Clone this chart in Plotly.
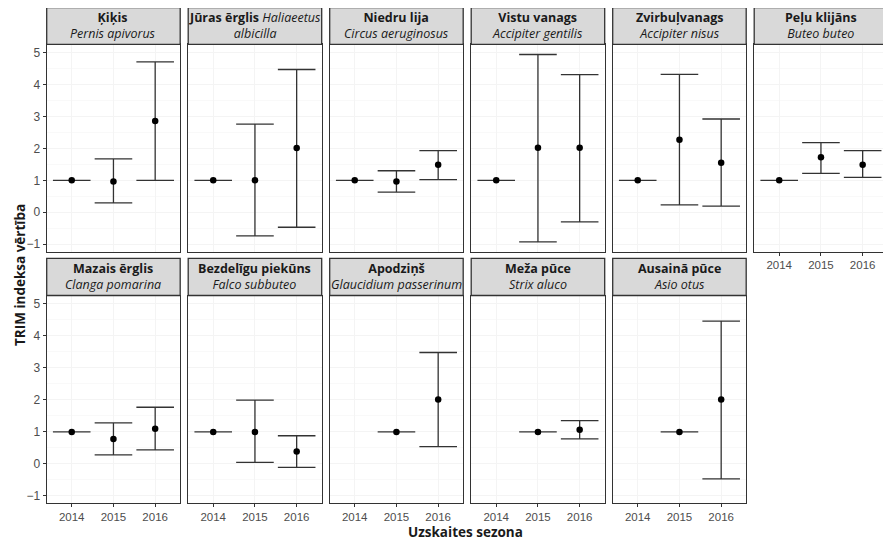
import plotly.graph_objects as go

# ---------------- data ----------------
species_lv = ["Ķiķis", "Jūras ērglis", "Niedru lija", "Vistu vanags", "Zvirbuļvanags",
              "Peļu klijāns", "Mazais ērglis", "Bezdelīgu piekūns", "Apodziņš",
              "Meža pūce", "Ausainā pūce"]
species_lat = ["Pernis apivorus", "Haliaeetus albicilla", "Circus aeruginosus",
               "Accipiter gentilis", "Accipiter nisus", "Buteo buteo", "Clanga pomarina",
               "Falco subbuteo", "Glaucidium passerinum", "Strix aluco", "Asio otus"]
years = [2014, 2015, 2016]

index_val = [
    [1, 0.96, 2.86],
    [1, 1.00, 2.01],
    [1, 0.96, 1.49],
    [1, 2.02, 2.02],
    [1, 2.27, 1.55],
    [1, 1.72, 1.49],
    [1, 0.78, 1.10],
    [1, 1.00, 0.39],
    [None, 1, 2.01],
    [None, 1, 1.07],
    [None, 1, 2.01],
]
lower_ci = [
    [1, 0.29, 1.00],
    [1, -0.74, -0.47],
    [1, 0.63, 1.02],
    [1, -0.93, -0.30],
    [1, 0.23, 0.19],
    [1, 1.22, 1.09],
    [1, 0.28, 0.44],
    [1, 0.05, -0.11],
    [None, 1, 0.54],
    [None, 1, 0.78],
    [None, 1, -0.47],
]
upper_ci = [
    [1, 1.67, 4.71],
    [1, 2.76, 4.47],
    [1, 1.30, 1.93],
    [1, 4.94, 4.31],
    [1, 4.32, 2.92],
    [1, 2.18, 1.93],
    [1, 1.28, 1.77],
    [1, 1.99, 0.88],
    [None, 1, 3.48],
    [None, 1, 1.35],
    [None, 1, 4.46],
]
y_ticks = [-1, 0, 1, 2, 3, 4, 5]
y_title = "TRIM indeksa vērtība"
x_title = "Uzskaites sezona"

# ---------------- layout geometry (window pixels) ----------------
WIN_W, WIN_H = 891, 541
OFF = 8  # page body margin of the browser
W, H = WIN_W - OFF, WIN_H - OFF
ncol = 6
left0, step, pw = 46.7, 141.5, 133.5
rows = [  # strip top, strip bottom(panel top), panel bottom
    (7.5, 44.3, 251.5),
    (258.3, 295.5, 503.3),
]
latin_words_on_first_line = {1: 1}

def px(x):
    return (x - OFF) / W

def py(y):
    return 1 - (y - OFF) / H

STRIP_FONT = "Open Sans"
TICK_FONT = "Liberation Sans"
BORDER = "#333333"

fig = go.Figure()
shapes = []
annotations = []

for i, name in enumerate(species_lv):
    r, c = divmod(i, ncol)
    st, pt, pb = rows[r]
    L = left0 + c * step
    R = L + pw
    sfx = "" if i == 0 else str(i + 1)

    xs, ys, up, dn = [], [], [], []
    for j, yr in enumerate(years):
        v = index_val[i][j]
        if v is None:
            continue
        xs.append(yr)
        ys.append(v)
        up.append(upper_ci[i][j] - v)
        dn.append(v - lower_ci[i][j])

    fig.add_trace(go.Scatter(
        x=xs, y=ys, mode="markers",
        marker=dict(color="black", size=6.5),
        error_y=dict(type="data", symmetric=False, array=up, arrayminus=dn,
                     color=BORDER, thickness=1.3, width=18.8),
        xaxis="x" + sfx, yaxis="y" + sfx, showlegend=False,
        hoverinfo="x+y",
    ))

    show_x = (r == 1) or (i == ncol - 1)
    show_y = (c == 0)
    fig.layout["xaxis" + sfx] = dict(
        domain=[px(L), px(R)], anchor="y" + sfx, automargin=False,
        range=[2013.4, 2016.6], tickvals=years, ticktext=[str(y) for y in years],
        showticklabels=show_x, ticks="outside" if show_x else "",
        ticklen=3, tickwidth=1, tickcolor=BORDER,
        tickfont=dict(family=TICK_FONT, size=11.5, color="#4d4d4d"),
        showline=True, mirror=True, linecolor=BORDER, linewidth=1.3,
        showgrid=True, gridcolor="#f4f4f4", gridwidth=1, zeroline=False,
        fixedrange=True,
    )
    fig.layout["yaxis" + sfx] = dict(
        domain=[py(pb), py(pt)], anchor="x" + sfx, automargin=False,
        range=[-1.23, 5.26], tickvals=y_ticks,
        showticklabels=show_y, ticks="outside" if show_y else "",
        ticklen=3, tickwidth=1, tickcolor=BORDER,
        tickfont=dict(family=TICK_FONT, size=12, color="#4d4d4d"),
        showline=True, mirror=True, linecolor=BORDER, linewidth=1.3,
        showgrid=True, gridcolor="#f4f4f4", gridwidth=1, zeroline=False,
        minor=dict(showgrid=True, gridcolor="#f9f9f9", gridwidth=0.6, dtick=0.5, tick0=0.5),
        fixedrange=True,
    )

    # strip
    shapes.append(dict(type="rect", xref="paper", yref="paper",
                       x0=px(L), x1=px(R), y0=py(pt), y1=py(st),
                       fillcolor="#d9d9d9", line=dict(color=BORDER, width=1.3),
                       layer="above"))
    lat_words = species_lat[i].split()
    k = latin_words_on_first_line.get(i, 0)
    line1 = "<b>" + name + "</b>"
    if k:
        line1 += " <i>" + " ".join(lat_words[:k]) + "</i>"
    line2 = "<i>" + " ".join(lat_words[k:]) + "</i>"
    annotations.append(dict(
        x=px((L + R) / 2), y=py((st + pt) / 2), xref="paper", yref="paper",
        text=line1 + "<br>" + line2, showarrow=False,
        font=dict(family=STRIP_FONT, size=12.5, color="#1a1a1a"),
        xanchor="center", yanchor="middle", align="center",
    ))

annotations.append(dict(
    x=px(20), y=py(275), xref="paper", yref="paper", text="<b>" + y_title + "</b>",
    textangle=-90, showarrow=False, font=dict(family=STRIP_FONT, size=13.5, color="#1a1a1a"),
    xanchor="center", yanchor="middle",
))
annotations.append(dict(
    x=px(466), y=py(532.3), xref="paper", yref="paper", text="<b>" + x_title + "</b>",
    showarrow=False, font=dict(family=STRIP_FONT, size=13.5, color="#1a1a1a"),
    xanchor="center", yanchor="middle",
))

fig.update_layout(
    width=W, height=H, autosize=False,
    margin=dict(l=0, r=0, t=0, b=0),
    paper_bgcolor="white", plot_bgcolor="white",
    shapes=shapes, annotations=annotations, showlegend=False,
)

fig.write_html("out.html")
